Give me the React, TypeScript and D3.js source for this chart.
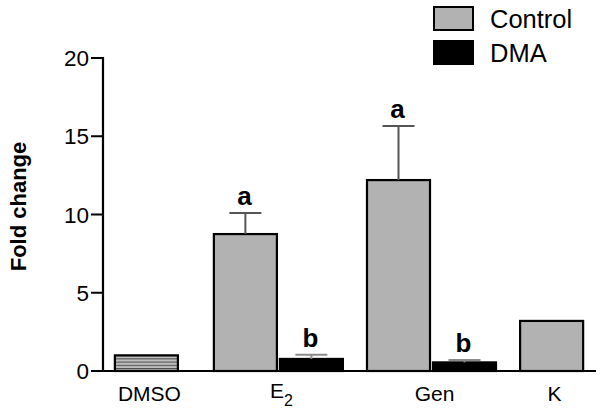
import React from "react";
import * as d3 from "d3";

const categories = ["DMSO", "E2", "Gen", "K"];
const seriesNames = ["Control", "DMA"];
const controlValues: (number | null)[] = [1.0, 8.75, 12.2, 3.2];
const controlErrors: (number | null)[] = [0, 1.35, 3.45, 0];
const dmaValues: (number | null)[] = [null, 0.77, 0.55, null];
const dmaErrors: (number | null)[] = [null, 0.27, 0.15, null];
const controlLetters = ["", "a", "a", ""];
const dmaLetters = ["", "b", "b", ""];
const yTicks = [0, 5, 10, 15, 20];

const W = 602;
const H = 408;
const FONT = "'Liberation Sans', Arial, Helvetica, sans-serif";
const GROUP_GAPS = [0.5, 0.32, 0.32];
const BAR_FRAC = 0.955;
const CONTROL_FILL = "#b2b2b2";

export default function App() {
  const y = d3.scaleLinear().domain([0, 20]).range([371, 58]);
  // x in "bar units"
  const x = d3.scaleLinear().domain([-0.18, 7.29]).range([103, 596]);

  const groups: { cat: string; start: number; bars: { series: string; value: number; err: number; letter: string; pattern: boolean }[] }[] = [];
  let pos = 0;
  categories.forEach((cat, i) => {
    const bars: any[] = [];
    if (controlValues[i] != null)
      bars.push({ series: "Control", value: controlValues[i], err: controlErrors[i] || 0, letter: controlLetters[i], pattern: cat === "DMSO" });
    if (dmaValues[i] != null)
      bars.push({ series: "DMA", value: dmaValues[i], err: dmaErrors[i] || 0, letter: dmaLetters[i], pattern: false });
    groups.push({ cat, start: pos, bars });
    pos += bars.length + (GROUP_GAPS[i] ?? 0);
  });

  const barW = x(BAR_FRAC) - x(0);
  const capHalf = 16;

  const renderLabel = (cat: string) => {
    const m = cat.match(/^([A-Za-z]+)(\d)$/);
    if (m) {
      return (
        <>
          <tspan dy={-3}>{m[1]}</tspan>
          <tspan fontSize={16} dy={8}>{m[2]}</tspan>
        </>
      );
    }
    return cat;
  };

  return (
    <svg width={W} height={H} style={{ position: "absolute", left: 0, top: 0, background: "#fff" }} fontFamily={FONT}>
      <defs>
        <pattern id="stripes" patternUnits="userSpaceOnUse" width={8} height={3.2}>
          <rect width={8} height={3.2} fill="#bdbdbd" />
          <rect y={0} width={8} height={1} fill="#444" />
        </pattern>
      </defs>
      <rect width={W} height={H} fill="#fff" />

      {/* bars */}
      {groups.map((g) =>
        g.bars.map((b, j) => {
          const x0 = x(g.start + j);
          const top = y(b.value);
          const base = y(0);
          const cx = x0 + barW / 2;
          const errTop = y(b.value + b.err);
          const isDMA = b.series === "DMA";
          return (
            <g key={g.cat + b.series}>
              <rect
                x={x0}
                y={top}
                width={barW}
                height={base - top}
                fill={b.pattern ? "url(#stripes)" : isDMA ? "#000" : CONTROL_FILL}
                stroke="#000"
                strokeWidth={2.2}
              />
              {b.err > 0 && (
                <g stroke={isDMA ? "#8a8a8a" : "#555"} strokeWidth={2}>
                  <line x1={cx} x2={cx} y1={top} y2={errTop} />
                  <line x1={cx - capHalf} x2={cx + capHalf} y1={errTop} y2={errTop} />
                </g>
              )}
              {b.letter && (
                <text x={cx - 1} y={errTop - 8} textAnchor="middle" fontWeight="bold" fontSize={26} fill="#000">
                  {b.letter}
                </text>
              )}
            </g>
          );
        })
      )}

      {/* axes */}
      <line x1={103} x2={103} y1={y(20) - 1} y2={y(0) + 1} stroke="#000" strokeWidth={2.2} />
      <line x1={102} x2={596} y1={y(0)} y2={y(0)} stroke="#000" strokeWidth={2.2} />
      {yTicks.map((t) => (
        <g key={t}>
          <line x1={91} x2={103} y1={y(t)} y2={y(t)} stroke="#000" strokeWidth={2} />
          <text x={89} y={y(t) + 8} textAnchor="end" fontSize={22.5} fill="#000">
            {t}
          </text>
        </g>
      ))}

      {/* category labels */}
      {groups.map((g) => {
        const cx = (x(g.start) + x(g.start + g.bars.length - 1 + BAR_FRAC)) / 2 + 3;
        return (
          <text key={g.cat} x={cx} y={401} textAnchor="middle" fontSize={21} fill="#000">
            {renderLabel(g.cat)}
          </text>
        );
      })}

      {/* y title */}
      <text
        transform={`translate(26, ${(y(0) + y(20)) / 2 - 8}) rotate(-90)`}
        textAnchor="middle"
        fontWeight="bold"
        fontSize={22}
        fill="#000"
      >
        Fold change
      </text>

      {/* legend */}
      {seriesNames.map((s, i) => (
        <g key={s} transform={`translate(434, ${7 + i * 34})`}>
          <rect x={0} y={0} width={39} height={23} fill={s === "DMA" ? "#000" : CONTROL_FILL} stroke="#000" strokeWidth={2} />
          <text x={56} y={20.5} fontSize={25.5} fill="#000">
            {s}
          </text>
        </g>
      ))}
    </svg>
  );
}
